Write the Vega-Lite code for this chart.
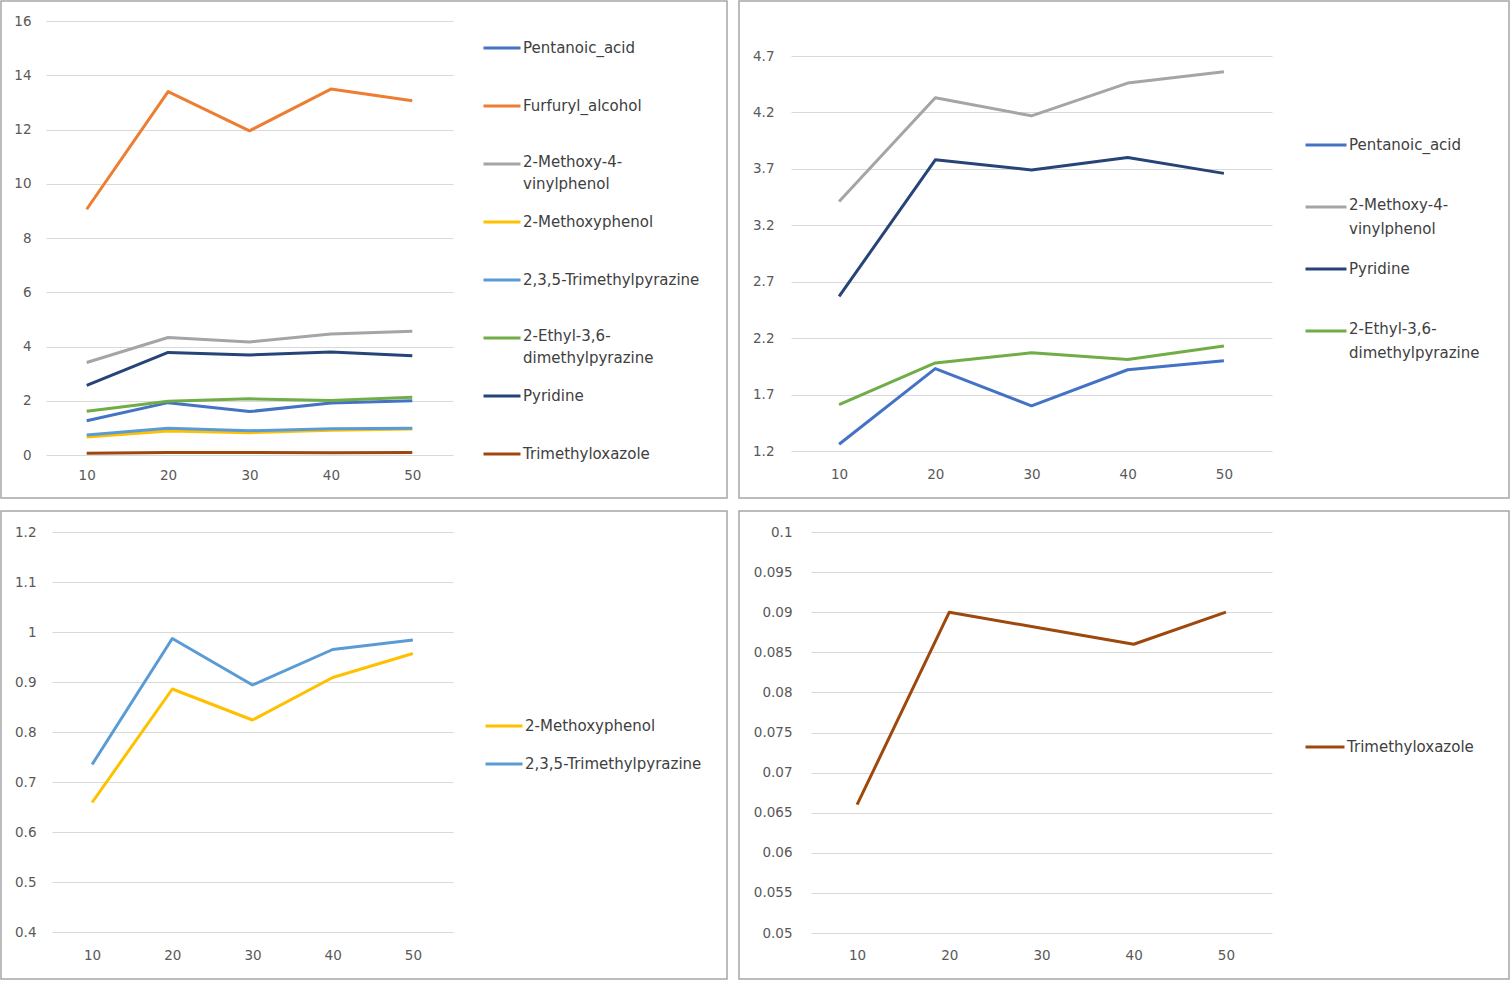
{
  "$schema": "https://vega.github.io/schema/vega-lite/v6.json",
  "background": "white",
  "padding": 0,
  "datasets": {
    "d": [
      {"conc": 10, "compound": "Pentanoic_acid", "value": 1.26},
      {"conc": 20, "compound": "Pentanoic_acid", "value": 1.93},
      {"conc": 30, "compound": "Pentanoic_acid", "value": 1.6},
      {"conc": 40, "compound": "Pentanoic_acid", "value": 1.92},
      {"conc": 50, "compound": "Pentanoic_acid", "value": 2.0},
      {"conc": 10, "compound": "Furfuryl_alcohol", "value": 9.06},
      {"conc": 20, "compound": "Furfuryl_alcohol", "value": 13.4},
      {"conc": 30, "compound": "Furfuryl_alcohol", "value": 11.95},
      {"conc": 40, "compound": "Furfuryl_alcohol", "value": 13.49},
      {"conc": 50, "compound": "Furfuryl_alcohol", "value": 13.06},
      {"conc": 10, "compound": "2-Methoxy-4-vinylphenol", "value": 3.41},
      {"conc": 20, "compound": "2-Methoxy-4-vinylphenol", "value": 4.33},
      {"conc": 30, "compound": "2-Methoxy-4-vinylphenol", "value": 4.17},
      {"conc": 40, "compound": "2-Methoxy-4-vinylphenol", "value": 4.46},
      {"conc": 50, "compound": "2-Methoxy-4-vinylphenol", "value": 4.56},
      {"conc": 10, "compound": "2-Methoxyphenol", "value": 0.659},
      {"conc": 20, "compound": "2-Methoxyphenol", "value": 0.886},
      {"conc": 30, "compound": "2-Methoxyphenol", "value": 0.824},
      {"conc": 40, "compound": "2-Methoxyphenol", "value": 0.909},
      {"conc": 50, "compound": "2-Methoxyphenol", "value": 0.957},
      {"conc": 10, "compound": "2,3,5-Trimethylpyrazine", "value": 0.735},
      {"conc": 20, "compound": "2,3,5-Trimethylpyrazine", "value": 0.987},
      {"conc": 30, "compound": "2,3,5-Trimethylpyrazine", "value": 0.894},
      {"conc": 40, "compound": "2,3,5-Trimethylpyrazine", "value": 0.965},
      {"conc": 50, "compound": "2,3,5-Trimethylpyrazine", "value": 0.984},
      {"conc": 10, "compound": "2-Ethyl-3,6-dimethylpyrazine", "value": 1.61},
      {"conc": 20, "compound": "2-Ethyl-3,6-dimethylpyrazine", "value": 1.98},
      {"conc": 30, "compound": "2-Ethyl-3,6-dimethylpyrazine", "value": 2.07},
      {"conc": 40, "compound": "2-Ethyl-3,6-dimethylpyrazine", "value": 2.01},
      {"conc": 50, "compound": "2-Ethyl-3,6-dimethylpyrazine", "value": 2.13},
      {"conc": 10, "compound": "Pyridine", "value": 2.57},
      {"conc": 20, "compound": "Pyridine", "value": 3.78},
      {"conc": 30, "compound": "Pyridine", "value": 3.69},
      {"conc": 40, "compound": "Pyridine", "value": 3.8},
      {"conc": 50, "compound": "Pyridine", "value": 3.66},
      {"conc": 10, "compound": "Trimethyloxazole", "value": 0.066},
      {"conc": 20, "compound": "Trimethyloxazole", "value": 0.09},
      {"conc": 30, "compound": "Trimethyloxazole", "value": 0.088},
      {"conc": 40, "compound": "Trimethyloxazole", "value": 0.086},
      {"conc": 50, "compound": "Trimethyloxazole", "value": 0.09}
    ]
  },
  "vconcat": [
    {
      "hconcat": [
        {
          "width": 726,
          "height": 497,
          "data": {"name": "d"},
          "mark": {"type": "line", "strokeWidth": 3, "strokeJoin": "round"},
          "encoding": {
            "x": {
              "field": "conc", "type": "ordinal",
              "scale": {"range": [45, 452], "padding": 0.5},
              "axis": {"offset": -30}
            },
            "y": {
              "field": "value", "type": "quantitative",
              "scale": {"domain": [0, 16], "range": [454, 20], "nice": false, "zero": false},
              "axis": {"values": [0, 2, 4, 6, 8, 10, 12, 14, 16], "offset": -34}
            },
            "color": {
              "field": "compound", "type": "nominal",
              "scale": {
                "domain": ["Pentanoic_acid", "Furfuryl_alcohol", "2-Methoxy-4-vinylphenol", "2-Methoxyphenol", "2,3,5-Trimethylpyrazine", "2-Ethyl-3,6-dimethylpyrazine", "Pyridine", "Trimethyloxazole"],
                "range": ["#4472C4", "#ED7D31", "#A5A5A5", "#FFC000", "#5B9BD5", "#70AD47", "#264478", "#9E480E"]
              },
              "legend": {
                "legendX": 481, "legendY": 18, "clipHeight": 58, "rowPadding": 0, "symbolSize": 1369,
                "labelExpr": "datum.label == '2-Methoxy-4-vinylphenol' ? ['2-Methoxy-4-', 'vinylphenol'] : datum.label == '2-Ethyl-3,6-dimethylpyrazine' ? ['2-Ethyl-3,6-', 'dimethylpyrazine'] : datum.label",
                "encode": {"labels": {"update": {"lineHeight": {"value": 22}, "dy": {"signal": "datum.label == '2-Methoxy-4-vinylphenol' || datum.label == '2-Ethyl-3,6-dimethylpyrazine' ? -2 : 0"}}}}
              }
            }
          }
        },
        {
          "width": 770,
          "height": 497,
          "data": {"name": "d"},
          "transform": [{"filter": {"field": "compound", "oneOf": ["Pentanoic_acid", "2-Methoxy-4-vinylphenol", "Pyridine", "2-Ethyl-3,6-dimethylpyrazine"]}}],
          "mark": {"type": "line", "strokeWidth": 3, "strokeJoin": "round"},
          "encoding": {
            "x": {
              "field": "conc", "type": "ordinal",
              "scale": {"range": [52, 533], "padding": 0.5},
              "axis": {"offset": -31}
            },
            "y": {
              "field": "value", "type": "quantitative",
              "scale": {"domain": [1.2, 4.7], "range": [450, 55], "nice": false, "zero": false},
              "axis": {"values": [1.2, 1.7, 2.2, 2.7, 3.2, 3.7, 4.2, 4.7], "offset": -39}
            },
            "color": {
              "field": "compound", "type": "nominal",
              "scale": {
                "domain": ["Pentanoic_acid", "2-Methoxy-4-vinylphenol", "Pyridine", "2-Ethyl-3,6-dimethylpyrazine"],
                "range": ["#4472C4", "#A5A5A5", "#264478", "#70AD47"]
              },
              "legend": {
                "legendX": 565, "legendY": 113, "clipHeight": 62, "rowPadding": 0, "symbolSize": 1681,
                "labelExpr": "datum.label == '2-Methoxy-4-vinylphenol' ? ['2-Methoxy-4-', 'vinylphenol'] : datum.label == '2-Ethyl-3,6-dimethylpyrazine' ? ['2-Ethyl-3,6-', 'dimethylpyrazine'] : datum.label",
                "encode": {"labels": {"update": {"lineHeight": {"value": 24}, "dy": {"signal": "datum.label == '2-Methoxy-4-vinylphenol' || datum.label == '2-Ethyl-3,6-dimethylpyrazine' ? -2 : 0"}}}}
              }
            }
          }
        }
      ],
      "spacing": 10,
      "resolve": {"scale": {"color": "independent"}, "legend": {"color": "independent"}}
    },
    {
      "hconcat": [
        {
          "width": 726,
          "height": 468,
          "data": {"name": "d"},
          "transform": [{"filter": {"field": "compound", "oneOf": ["2-Methoxyphenol", "2,3,5-Trimethylpyrazine"]}}],
          "mark": {"type": "line", "strokeWidth": 3, "strokeJoin": "round"},
          "encoding": {
            "x": {
              "field": "conc", "type": "ordinal",
              "scale": {"range": [51, 452], "padding": 0.5},
              "axis": {"offset": -31}
            },
            "y": {
              "field": "value", "type": "quantitative",
              "scale": {"domain": [0.4, 1.2], "range": [421, 21], "nice": false, "zero": false},
              "axis": {"values": [0.4, 0.5, 0.6, 0.7, 0.8, 0.9, 1, 1.1, 1.2], "offset": -39}
            },
            "color": {
              "field": "compound", "type": "nominal",
              "scale": {
                "domain": ["2-Methoxyphenol", "2,3,5-Trimethylpyrazine"],
                "range": ["#FFC000", "#5B9BD5"]
              },
              "legend": {"legendX": 483, "legendY": 196, "clipHeight": 38, "symbolSize": 1369}
            }
          }
        },
        {
          "width": 770,
          "height": 468,
          "data": {"name": "d"},
          "transform": [{"filter": {"field": "compound", "oneOf": ["Trimethyloxazole"]}}],
          "mark": {"type": "line", "strokeWidth": 3, "strokeJoin": "round"},
          "encoding": {
            "x": {
              "field": "conc", "type": "ordinal",
              "scale": {"range": [72, 533], "padding": 0.5},
              "axis": {"offset": -31}
            },
            "y": {
              "field": "value", "type": "quantitative",
              "scale": {"domain": [0.05, 0.1], "range": [422, 21], "nice": false, "zero": false},
              "axis": {"values": [0.05, 0.055, 0.06, 0.065, 0.07, 0.075, 0.08, 0.085, 0.09, 0.095, 0.1], "offset": -57}
            },
            "color": {
              "field": "compound", "type": "nominal",
              "scale": {"domain": ["Trimethyloxazole"], "range": ["#9E480E"]},
              "legend": {"legendX": 565, "legendY": 217, "clipHeight": 38, "symbolSize": 1521}
            }
          }
        }
      ],
      "spacing": 10,
      "resolve": {"scale": {"color": "independent"}, "legend": {"color": "independent"}}
    }
  ],
  "spacing": 11,
  "resolve": {"scale": {"color": "independent"}, "legend": {"color": "independent"}},
  "config": {
    "view": {"stroke": "#a6a6a6", "strokeWidth": 1.5},
    "axisX": {
      "title": null, "labelAngle": 0, "domain": false, "ticks": false, "tickSize": 0, "grid": false,
      "labelPadding": 0, "labelFont": "DejaVu Sans", "labelFontSize": 13.5, "labelColor": "#595959"
    },
    "axisY": {
      "title": null, "domain": false, "ticks": false, "tickSize": 0, "grid": true,
      "gridColor": "#d9d9d9", "gridWidth": 1, "labelPadding": 4, "format": "~g",
      "labelFont": "DejaVu Sans", "labelFontSize": 13.5, "labelColor": "#595959"
    },
    "legend": {
      "orient": "none", "title": null, "padding": 0, "rowPadding": 0,
      "symbolType": "stroke", "symbolStrokeWidth": 3, "symbolOffset": 0,
      "labelFont": "DejaVu Sans", "labelFontSize": 15, "labelColor": "#404040",
      "labelLimit": 300, "labelOffset": 1
    }
  }
}
